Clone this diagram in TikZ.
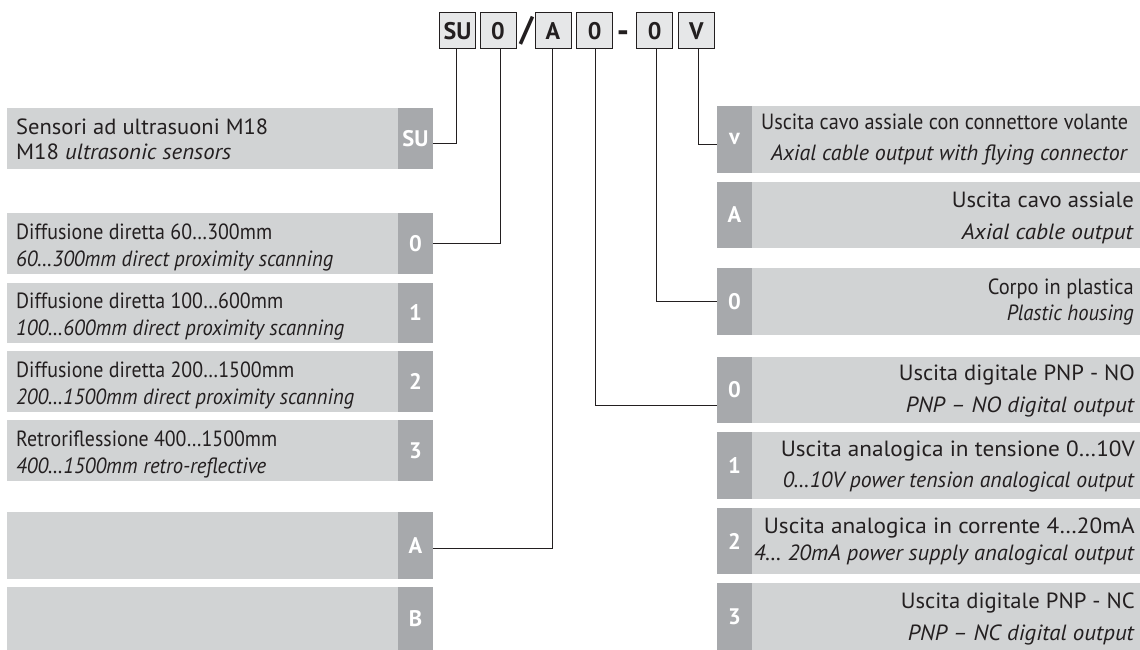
\documentclass[tikz,border=0pt]{standalone}
\usepackage{graphicx}
\usepackage{fontspec}
\setmainfont{PT Sans}
\usetikzlibrary{calc}
\definecolor{panelgrey}{HTML}{D1D3D4}
\definecolor{taggrey}{HTML}{A7A9AC}
\definecolor{keygrey}{HTML}{E6E7E8}
\definecolor{inkgrey}{HTML}{231F20}
\newcommand{\fitw}[2]{\setbox0=\hbox{#2}\pgfmathsetmacro{\fitr}{#1/\the\wd0}\scalebox{\fitr}[1]{\box0}}
\tikzset{
  x=1pt,y=-1pt,
  tagbox/.style={fill=taggrey,draw=none,inner sep=0pt,text=white,font=\fontsize{22.5}{22.5}\selectfont\bfseries,align=center},
  keybox/.style={draw=inkgrey,line width=1pt,fill=keygrey,inner sep=0pt,minimum width=36pt,minimum height=36pt,text=inkgrey,font=\fontsize{24}{24}\selectfont\bfseries},
  lefttext/.style={anchor=base west,text=inkgrey,inner sep=0pt,font=\fontsize{22}{26}\selectfont},
  righttext/.style={anchor=base east,text=inkgrey,inner sep=0pt,font=\fontsize{22}{26}\selectfont},
  wire/.style={draw=inkgrey,line width=1pt},
}
\newcommand{\LP}[4]{% name, top, bottom, tag
  \fill[panelgrey] (7,#2) rectangle (433,#3);
  \path let \n1={#3-#2} in node[tagbox,minimum width=35pt,minimum height=\n1 pt] (#1) at (415.5,{(#2+#3)/2}) {\raisebox{-1pt}{#4}};
}
\newcommand{\RP}[4]{% name, top, bottom, tag
  \fill[panelgrey] (717,#2) rectangle (1140,#3);
  \path let \n1={#3-#2} in node[tagbox,minimum width=35pt,minimum height=\n1 pt] (#1) at (734.5,{(#2+#3)/2}) {\raisebox{-1pt}{#4}};
}
\newcommand{\LT}[5]{\node[lefttext] (#1) at (16,#2) {\fitw{#3}{#4}};}
\newcommand{\RT}[5]{\node[righttext] (#1) at (#2,#3) {\fitw{#4}{#5}};}
\begin{document}
\begin{tikzpicture}
\useasboundingbox (0,0) rectangle (1140,650);
\fill[white] (0,0) rectangle (1140,650);
% key
\node[keybox] (kSU) at (457.5,31) {SU};
\node[keybox] (kO1) at (498,31) {0};
\node[keybox] (kA) at (553,31) {A};
\node[keybox] (kO2) at (594.7,31) {0};
\node[keybox] (kO3) at (654.7,31) {0};
\node[keybox] (kV) at (696.3,31) {V};
\node[text=inkgrey,inner sep=0pt,font=\fontsize{34}{34}\selectfont\bfseries] (slash) at (526.5,30.5) {/};
\node[text=inkgrey,inner sep=0pt,font=\fontsize{34}{34}\selectfont\bfseries] (dash) at (623,37) {-};
% left panels
\LP{lSU}{108}{169}{SU}
\LP{lO}{213}{274}{0}
\LP{lOne}{282.5}{343}{1}
\LP{lTwo}{351}{412}{2}
\LP{lThree}{420}{481}{3}
\LP{lA}{512}{579}{A}
\LP{lB}{587}{650}{B}
\LT{t1a}{134.3}{252}{Sensori ad ultrasuoni M18}{}
\LT{t1b}{160}{215}{M18 \textit{ultrasonic sensors}}{}
\LT{t2a}{239}{256}{Diffusione diretta 60…300mm}{}
\LT{t2b}{266}{317}{\textit{60…300mm direct proximity scanning}}{}
\LT{t3a}{308}{267}{Diffusione diretta 100…600mm}{}
\LT{t3b}{335}{328}{\textit{100…600mm direct proximity scanning}}{}
\LT{t4a}{377}{278}{Diffusione diretta 200…1500mm}{}
\LT{t4b}{404}{338}{\textit{200…1500mm direct proximity scanning}}{}
\LT{t5a}{446}{261}{Retroriflessione 400…1500mm}{}
\LT{t5b}{473}{250}{\textit{400…1500mm retro-reflective}}{}
% right panels
\RP{rV}{106}{172.5}{v}
\RP{rA}{182}{248}{A}
\RP{rO}{268}{334.5}{0}
\RP{rZero}{357}{422.5}{0}
\RP{rOne}{432}{498.5}{1}
\RP{rTwo}{508}{574}{2}
\RP{rThree}{583}{650}{3}
\RT{u1a}{1128.3}{129}{367}{Uscita cavo assiale con connettore volante}
\RT{u1b}{1128.3}{160.7}{357}{\textit{Axial cable output with flying connector}}
\RT{u2a}{1134}{207}{182}{Uscita cavo assiale}
\RT{u2b}{1134}{239}{172}{\textit{Axial cable output}}
\RT{u3a}{1134}{294}{146}{Corpo in plastica}
\RT{u3b}{1134}{320}{127}{\textit{Plastic housing}}
\RT{u4a}{1135}{380}{236}{Uscita digitale PNP - NO}
\RT{u4b}{1135}{412}{229}{\textit{PNP – NO digital output}}
\RT{u5a}{1135}{456}{354}{Uscita analogica in tensione 0…10V}
\RT{u5b}{1135}{487}{352}{\textit{0…10V power tension analogical output}}
\RT{u6a}{1135}{533}{371}{Uscita analogica in corrente 4…20mA}
\RT{u6b}{1135}{560}{381}{\textit{4… 20mA power supply analogical output}}
\RT{u7a}{1135}{608}{234}{Uscita digitale PNP - NC}
\RT{u7b}{1135}{640}{227}{\textit{PNP – NC digital output}}
% connectors
\draw[wire] ([xshift=-0.8pt]kSU.south) |- ([yshift=-5.5pt]lSU.east);
\draw[wire] ([xshift=2pt]kO1.south) |- (lO.east);
\draw[wire] ([xshift=-0.7pt]kA.south) |- ([yshift=-3pt]lA.east);
\draw[wire] ([xshift=0.3pt]kO2.south) |- ([yshift=-15.3pt]rZero.west);
\draw[wire] ([xshift=1.3pt]kO3.south) |- ([yshift=-0.5pt]rO.west);
\draw[wire] ([xshift=2pt]kV.south) |- ([yshift=-4.8pt]rV.west);
\end{tikzpicture}
\end{document}
